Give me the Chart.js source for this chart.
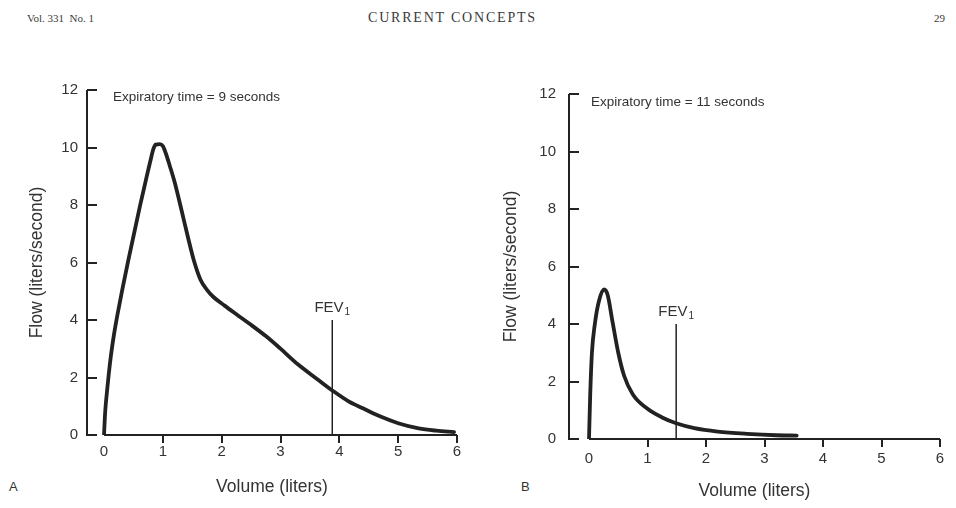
<!DOCTYPE html>
<html>
<head>
<meta charset="utf-8">
<script src="https://cdn.jsdelivr.net/npm/chart.js@4"></script>
<style>
  body { margin: 0; background: #fff; width: 956px; height: 508px; position: relative; overflow: hidden; }
  canvas { position: absolute; top: 0; }
  .head { position: absolute; font-family: "Liberation Serif", serif; color: #3a3a3a; top: 12px; }
  .panel { position: absolute; font-family: "Liberation Sans", sans-serif; font-size: 13px; color: #333; top: 479px; }
</style>
</head>
<body>
  <div class="head" style="left:27px; font-size:11px; top:12px">Vol. 331&nbsp;&nbsp;No. 1</div>
  <div class="head" style="left:368px; font-size:14px; letter-spacing:1.8px; top:10px">CURRENT CONCEPTS</div>
  <div class="head" style="left:934px; font-size:11px; top:12px">29</div>
  <div class="panel" style="left:9px">A</div>
  <div class="panel" style="left:521px">B</div>

  <canvas id="chartA" width="478" height="508" style="left:0"></canvas>
  <canvas id="chartB" width="478" height="508" style="left:478px"></canvas>

<script>
  // Flow-volume curves: volume (liters) vs. flow (liters/second)
  const xTicks = [0, 1, 2, 3, 4, 5, 6];
  const yTicks = [0, 2, 4, 6, 8, 10, 12];

  // Panel A - expiratory time 9 seconds
  const volumeA = [0, 0.02, 0.05, 0.08, 0.12, 0.17, 0.23, 0.31, 0.41, 0.51, 0.61, 0.71, 0.79, 0.84, 0.88, 0.95, 1.0, 1.05, 1.12, 1.2, 1.32, 1.43, 1.53, 1.64, 1.75, 1.86, 2.05, 2.25, 2.48, 2.75, 2.99, 3.3, 3.62, 3.88, 4.15, 4.41, 4.7, 5.0, 5.35, 5.65, 5.95];
  const flowA   = [0, 0.8, 1.5, 2.1, 2.8, 3.5, 4.2, 5.05, 6.05, 7.0, 7.95, 8.85, 9.55, 9.95, 10.1, 10.12, 10.05, 9.8, 9.35, 8.8, 7.8, 6.85, 6.05, 5.4, 5.05, 4.8, 4.5, 4.2, 3.86, 3.44, 3.02, 2.45, 1.95, 1.55, 1.18, 0.92, 0.64, 0.41, 0.23, 0.15, 0.1];
  const fevVolumeA = [3.88, 3.88];
  const fevFlowA   = [0, 4];

  // Panel B - expiratory time 11 seconds
  const volumeB = [0, 0.02, 0.05, 0.1, 0.17, 0.26, 0.32, 0.4, 0.5, 0.6, 0.75, 1.0, 1.25, 1.49, 1.8, 2.2, 2.7, 3.2, 3.55];
  const flowB   = [0, 1.5, 3, 4, 4.8, 5.2, 5.0, 4.1, 3, 2.2, 1.55, 1.05, 0.75, 0.55, 0.38, 0.26, 0.18, 0.13, 0.12];
  const fevVolumeB = [1.49, 1.49];
  const fevFlowB   = [0, 4];

  const ink = '#222';
  const textColor = '#333';
  const sans = 'Liberation Sans, Arial, sans-serif';

  const toPoints = (xs, ys) => xs.map((v, i) => ({ x: v, y: ys[i] }));

  // axis lines drawn by hand: y ticks point inward, x axis starts at 0
  const axisFrame = {
    id: 'axisFrame',
    beforeDatasetsDraw(chart) {
      const { ctx, chartArea, scales: { x, y } } = chart;
      const left = chartArea.left;
      const y0 = y.getPixelForValue(0);
      ctx.save();
      ctx.strokeStyle = ink;
      ctx.lineWidth = 2;
      ctx.beginPath();
      ctx.moveTo(left, y.getPixelForValue(12));
      ctx.lineTo(left, y0 + 1);
      y.ticks.forEach(t => {
        const py = Math.round(y.getPixelForValue(t.value));
        ctx.moveTo(left, py);
        ctx.lineTo(left + 10, py);
      });
      ctx.moveTo(x.getPixelForValue(0), y0);
      ctx.lineTo(x.getPixelForValue(6), y0);
      x.ticks.forEach(t => {
        if (t.value <= 0) return;
        const px = Math.round(x.getPixelForValue(t.value));
        ctx.moveTo(px, y0);
        ctx.lineTo(px, y0 + 8);
      });
      ctx.stroke();
      ctx.restore();
    }
  };

  // "Expiratory time" note and the FEV1 label above its marker line
  const notes = {
    id: 'notes',
    afterDraw(chart, args, opts) {
      const { ctx, chartArea, scales: { x, y } } = chart;
      ctx.save();
      ctx.fillStyle = textColor;
      ctx.textBaseline = 'middle';
      ctx.font = '13.5px ' + sans;
      ctx.fillText(opts.note, chartArea.left + opts.noteDx, chartArea.top + opts.noteDy);

      const px = x.getPixelForValue(opts.fevX);
      const py = y.getPixelForValue(opts.fevTop) - 13;
      ctx.font = '15px ' + sans;
      const w1 = ctx.measureText('FEV').width;
      ctx.font = '10px ' + sans;
      const w2 = ctx.measureText('1').width;
      const start = px - (w1 + w2 + 1) / 2;
      ctx.textBaseline = 'alphabetic';
      ctx.font = '15px ' + sans;
      ctx.fillText('FEV', start, py + 5);
      ctx.font = '10px ' + sans;
      ctx.fillText('1', start + w1 + 1, py + 8);
      ctx.restore();
    }
  };

  function makeChart(id, vols, flows, fevVols, fevFlows, p) {
    const ctx = document.getElementById(id).getContext('2d');
    return new Chart(ctx, {
      type: 'line',
      data: {
        datasets: [{
          data: toPoints(vols, flows),
          borderColor: ink,
          borderWidth: 3.8,
          pointRadius: 0,
          cubicInterpolationMode: 'monotone',
          borderCapStyle: 'round'
        }, {
          data: toPoints(fevVols, fevFlows),
          borderColor: ink,
          borderWidth: 1.5,
          pointRadius: 0
        }]
      },
      options: {
        responsive: false,
        animation: false,
        layout: { padding: { top: p.top, right: p.right, left: 0, bottom: 0 } },
        plugins: {
          legend: { display: false },
          tooltip: { enabled: false },
          notes: { note: p.note, noteDx: p.noteDx, noteDy: p.noteDy, fevX: fevVols[0], fevTop: fevFlows[1] }
        },
        scales: {
          x: {
            type: 'linear',
            min: p.xMin,
            max: 6,
            afterBuildTicks: s => { s.ticks = xTicks.map(v => ({ value: v })); },
            afterFit: s => { s.height = p.xHeight; },
            grid: { display: false, drawTicks: false },
            border: { display: false },
            ticks: { color: textColor, font: { family: sans, size: 15 }, padding: p.xPad, maxRotation: 0 },
            title: {
              display: true,
              text: 'Volume (liters)',
              color: textColor,
              font: { family: sans, size: 17.5 },
              padding: { top: 0, bottom: p.xTitlePad }
            }
          },
          y: {
            min: 0,
            max: 12,
            afterBuildTicks: s => { s.ticks = yTicks.map(v => ({ value: v })); },
            afterFit: s => { s.width = p.yWidth; },
            grid: { display: false, drawTicks: false },
            border: { display: false },
            ticks: { color: textColor, font: { family: sans, size: 15 }, padding: p.yPad },
            title: {
              display: true,
              text: 'Flow (liters/second)',
              color: textColor,
              font: { family: sans, size: 17.5 },
              padding: { top: p.titlePad, bottom: 0 }
            }
          }
        }
      },
      plugins: [axisFrame, notes]
    });
  }

  makeChart('chartA', volumeA, flowA, fevVolumeA, fevFlowA, {
    top: 90, right: 21, xMin: -0.289, xHeight: 73, xPad: 8, xTitlePad: 10,
    yWidth: 87, yPad: 9, titlePad: 27,
    note: 'Expiratory time = 9 seconds', noteDx: 26, noteDy: 7
  });
  makeChart('chartB', volumeB, flowB, fevVolumeB, fevFlowB, {
    top: 94, right: 16, xMin: -0.342, xHeight: 69, xPad: 11, xTitlePad: 6,
    yWidth: 91, yPad: 13, titlePad: 23,
    note: 'Expiratory time = 11 seconds', noteDx: 22, noteDy: 8
  });
</script>
</body>
</html>
